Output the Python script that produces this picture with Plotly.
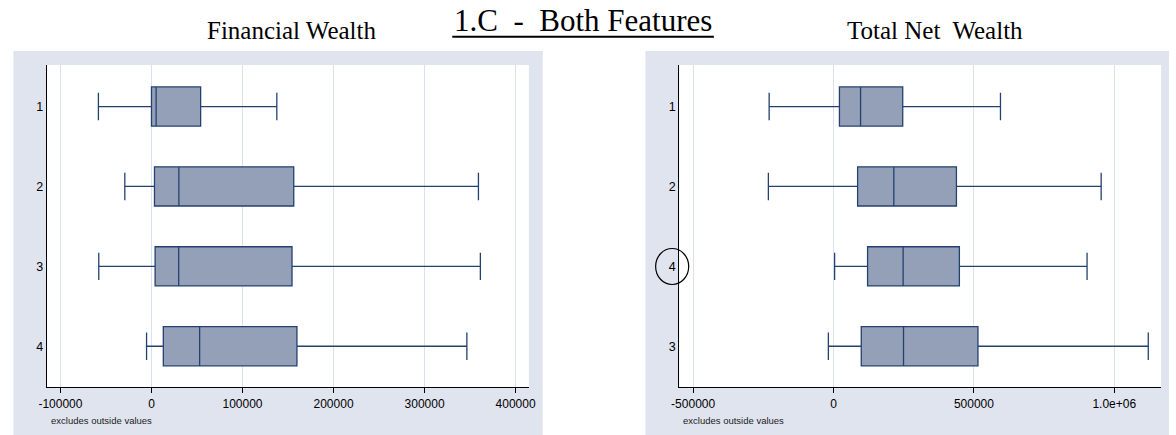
import plotly.graph_objects as go

W, H = 1176, 435

# ---- data ----
fin_cats = ["1", "2", "3", "4"]
fin_lower = [-58300, -29300, -57900, -5400]
fin_q1 = [0, 3300, 4000, 13000]
fin_median = [5100, 30100, 29900, 52900]
fin_q3 = [54000, 156300, 154400, 159800]
fin_upper = [137700, 359200, 361300, 346500]

tnw_cats = ["1", "2", "4", "3"]
tnw_lower = [-229300, -232000, 3900, -18300]
tnw_q1 = [21100, 85800, 121300, 98800]
tnw_median = [96300, 214800, 247900, 249300]
tnw_q3 = [246500, 437800, 448300, 514400]
tnw_upper = [594600, 953200, 903000, 1121000]

fin_ticks = [-100000, 0, 100000, 200000, 300000, 400000]
fin_ticktext = ["-100000", "0", "100000", "200000", "300000", "400000"]
tnw_ticks = [-500000, 0, 500000, 1000000]
tnw_ticktext = ["-500000", "0", "500000", "1.0e+06"]

main_title = "1.C  -  Both Features"
left_title = "Financial Wealth"
right_title = "Total Net  Wealth"
note_text = "excludes outside values"

# ---- styles ----
BG = "#E0E4EF"
GRID = "#DCE0EE"
FILL = "#94A0B8"
LINE = "#24406F"
SANS = "Liberation Sans, Arial, sans-serif"
SERIF = "Liberation Serif, Times New Roman, serif"


def px(x):
    return x / W


def py(y):
    return 1 - y / H


box_style = dict(
    orientation="h", fillcolor=FILL, line=dict(color=LINE, width=1.3),
    width=0.49, whiskerwidth=0.7, boxpoints=False, showlegend=False,
    hoverinfo="skip",
)

fig = go.Figure()
fig.add_trace(go.Box(y=fin_cats, q1=fin_q1, median=fin_median, q3=fin_q3,
                     lowerfence=fin_lower, upperfence=fin_upper,
                     xaxis="x", yaxis="y", **box_style))
fig.add_trace(go.Box(y=tnw_cats, q1=tnw_q1, median=tnw_median, q3=tnw_q3,
                     lowerfence=tnw_lower, upperfence=tnw_upper,
                     xaxis="x2", yaxis="y2", **box_style))

xcommon = dict(ticks="outside", ticklen=5, tickcolor="black", tickwidth=1,
               showgrid=True, gridcolor=GRID, gridwidth=1.2,
               showline=True, linecolor="black", linewidth=1.2,
               zeroline=False, tickfont=dict(family=SANS, size=12, color="black"),
               fixedrange=True)
ycommon = dict(type="category", ticks="", showgrid=False, showline=True,
               linecolor="black", linewidth=1.2, zeroline=False,
               tickfont=dict(family=SANS, size=12.5, color="black"),
               range=[3.51, -0.52], fixedrange=True)

y_dom = [py(387), py(65)]

fig.update_layout(
    width=W, height=H,
    margin=dict(l=0, r=0, t=0, b=0),
    paper_bgcolor="white", plot_bgcolor="white",
    xaxis=dict(domain=[px(39.3), px(527.6)], anchor="y",
               range=[-115000, 414600], tickvals=fin_ticks,
               ticktext=fin_ticktext, **xcommon),
    yaxis=dict(domain=y_dom, anchor="x", categoryarray=fin_cats,
               categoryorder="array", **ycommon),
    xaxis2=dict(domain=[px(679.9), px(1168)], anchor="y2",
                range=[-549500, 1166700], tickvals=tnw_ticks,
                ticktext=tnw_ticktext, **xcommon),
    yaxis2=dict(domain=y_dom, anchor="x2", categoryarray=tnw_cats,
                categoryorder="array", **ycommon),
)

shapes = [
    # gray panel backgrounds
    dict(type="rect", xref="paper", yref="paper", x0=px(5.5), x1=px(541.7),
         y0=0, y1=py(51), fillcolor=BG, line=dict(width=0), layer="below"),
    dict(type="rect", xref="paper", yref="paper", x0=px(645.7), x1=1,
         y0=0, y1=py(51), fillcolor=BG, line=dict(width=0), layer="below"),
    # white plot regions
    dict(type="rect", xref="x domain", yref="y domain", x0=0, x1=1, y0=0, y1=1,
         fillcolor="white", line=dict(width=0), layer="below"),
    dict(type="rect", xref="x2 domain", yref="y2 domain", x0=0, x1=1, y0=0, y1=1,
         fillcolor="white", line=dict(width=0), layer="below"),
    # title underline
    dict(type="line", xref="paper", yref="paper", x0=px(450), x1=px(715),
         y0=py(36.7), y1=py(36.7), line=dict(color="black", width=2)),
    # circle around the "4" label
    dict(type="circle", xref="paper", yref="paper", x0=px(656), x1=px(689.5),
         y0=py(284.5), y1=py(248.5), line=dict(color="black", width=1.2)),
]
fig.update_layout(shapes=shapes)

annotations = [
    dict(text=main_title, x=px(582.5), y=py(21), xref="paper", yref="paper",
         xanchor="center", yanchor="middle", showarrow=False,
         font=dict(family=SERIF, size=31, color="black")),
    dict(text=left_title, x=px(288), y=py(31), xref="paper", yref="paper",
         xanchor="center", yanchor="middle", showarrow=False,
         font=dict(family=SERIF, size=25, color="black")),
    dict(text=right_title, x=px(939), y=py(31), xref="paper", yref="paper",
         xanchor="center", yanchor="middle", showarrow=False,
         font=dict(family=SERIF, size=25, color="black")),
    dict(text=note_text, x=px(41.7), y=py(420), xref="paper", yref="paper",
         xanchor="left", yanchor="middle", showarrow=False,
         font=dict(family=SANS, size=9.5, color="#222")),
    dict(text=note_text, x=px(681.7), y=py(420), xref="paper", yref="paper",
         xanchor="left", yanchor="middle", showarrow=False,
         font=dict(family=SANS, size=9.5, color="#222")),
]
fig.update_layout(annotations=annotations)

fig.write_html(
    "out.html",
    config={"displayModeBar": False},
    post_script="document.body.style.margin='0';"
                "document.body.style.overflow='hidden';",
)
